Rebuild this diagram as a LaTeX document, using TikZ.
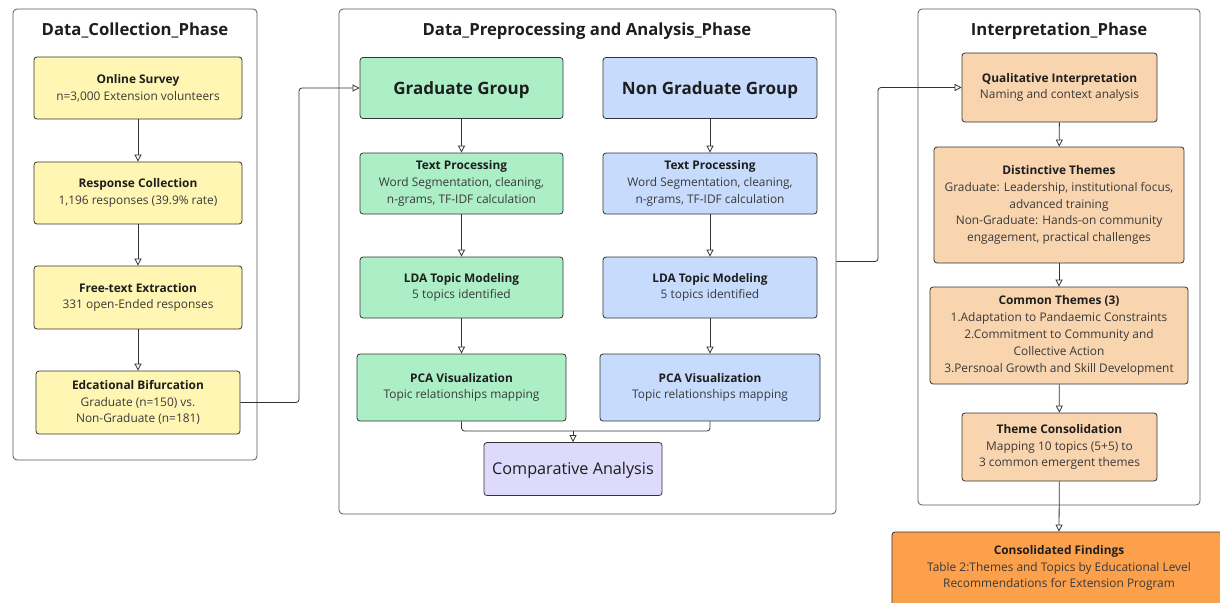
\documentclass[tikz,border=0pt]{standalone}
\usepackage{fontspec}
\setmainfont{Open Sans}
\usetikzlibrary{arrows.meta,calc}
\definecolor{cyel}{HTML}{FFF6B3}
\definecolor{cgrn}{HTML}{ACEFC7}
\definecolor{cblu}{HTML}{C7DBFD}
\definecolor{clav}{HTML}{DDDAFB}
\definecolor{cpch}{HTML}{F8D4AF}
\definecolor{corg}{HTML}{FDA04B}
\definecolor{ctxt}{HTML}{3A3A3A}
\definecolor{cttl}{HTML}{1E1E1E}
\definecolor{cedge}{HTML}{333333}
\newcommand{\hd}[1]{{\bfseries\color{cttl}#1}}
\tikzset{
  tx/.style={align=center, inner sep=0pt, text=ctxt, font={\fontsize{11.9}{16.8}\selectfont},
    execute at begin node={\rule{0pt}{17pt}}},
  bx/.style={draw=cedge, line width=0.8pt, rounded corners=3pt, tx},
  big/.style={execute at begin node={}, text=cttl, text depth=0pt},
  ybox/.style={bx, fill=cyel},
  gbox/.style={bx, fill=cgrn},
  bbox/.style={bx, fill=cblu},
  lbox/.style={bx, fill=clav},
  pbox/.style={bx, fill=cpch},
  obox/.style={bx, fill=corg},
  cluster/.style={draw=black!65, line width=0.8pt, rounded corners=4pt, inner sep=0pt},
  ctitle/.style={font={\fontsize{16.7}{20}\selectfont\bfseries}, text=cttl, inner sep=0pt,
    text height=11.9pt, text depth=0pt},
  arr/.style={draw=cedge, line width=0.8pt, -{Triangle[open, length=7pt, width=7pt]}},
  ln/.style={draw=cedge, line width=0.8pt},
}
\begin{document}
\begin{tikzpicture}[x=1pt,y=-1pt]
\useasboundingbox (0,0) rectangle (1220,602);
% clusters
\node[cluster, minimum width=244, minimum height=451] (c1) at (135,234.5) {};
\node[cluster, minimum width=497, minimum height=505] (c2) at (587.5,261.5) {};
\node[cluster, minimum width=282, minimum height=496] (c3) at (1059,257) {};
\node[ctitle] (t1) at (135,29.5) {Data\_Collection\_Phase};
\node[ctitle] (t2) at (587,29.5) {Data\_Preprocessing and Analysis\_Phase};
\node[ctitle] (t3) at (1059,29.5) {Interpretation\_Phase};
% phase 1
\node[ybox, minimum width=208, minimum height=62] (os) at (138,88) {\hd{Online Survey}\\n=3,000 Extension volunteers};
\node[ybox, minimum width=208, minimum height=62] (rc) at (138,193) {\hd{Response Collection}\\1,196 responses (39.9\% rate)};
\node[ybox, minimum width=208, minimum height=63] (fe) at (138,297.5) {\hd{Free-text Extraction}\\331 open-Ended responses};
\node[ybox, minimum width=204, minimum height=63] (eb) at (138,402.5) {\hd{Edcational Bifurcation}\\Graduate (n=150) vs.\\Non-Graduate (n=181)};
% phase 2
\node[gbox, big, minimum width=203, minimum height=61, font={\fontsize{17}{22}\selectfont\bfseries}, text height=12.1pt] (gg) at (461.5,88) {Graduate Group};
\node[bbox, big, minimum width=214, minimum height=61, font={\fontsize{17}{22}\selectfont\bfseries}, text height=12.1pt] (ng) at (710,88) {Non Graduate Group};
\node[gbox, minimum width=203, minimum height=61] (tpg) at (461.5,183.5) {\hd{Text Processing}\\Word Segmentation, cleaning,\\n-grams, TF-IDF calculation};
\node[bbox, minimum width=214, minimum height=61] (tpn) at (710,183.5) {\hd{Text Processing}\\Word Segmentation, cleaning,\\n-grams, TF-IDF calculation};
\node[gbox, minimum width=203, minimum height=61] (ldag) at (461.5,287.5) {\hd{LDA Topic Modeling}\\5 topics identified};
\node[bbox, minimum width=214, minimum height=61] (ldan) at (710,287.5) {\hd{LDA Topic Modeling}\\5 topics identified};
\node[gbox, minimum width=209, minimum height=67] (pcag) at (461.5,387.5) {\hd{PCA Visualization}\\Topic relationships mapping};
\node[bbox, minimum width=220, minimum height=67] (pcan) at (710,387.5) {\hd{PCA Visualization}\\Topic relationships mapping};
\node[lbox, big, minimum width=178, minimum height=53, font={\fontsize{16.2}{20}\selectfont}, text height=11.6pt] (ca) at (573,469) {Comparative Analysis};
% phase 3
\node[pbox, minimum width=195, minimum height=69] (qi) at (1059.5,87.5) {\hd{Qualitative Interpretation}\\Naming and context analysis};
\node[pbox, minimum width=250, minimum height=116] (dt) at (1059,205) {\hd{Distinctive Themes}\\Graduate: Leadership, institutional focus,\\advanced training\\Non-Graduate: Hands-on community\\engagement, practical challenges};
\node[pbox, minimum width=258, minimum height=97] (ct) at (1059,335.5) {\hd{Common Themes (3)}\\1.Adaptation to Pandaemic Constraints\\2.Commitment to Community and\\Collective Action\\3.Persnoal Growth and Skill Development};
\node[pbox, minimum width=195, minimum height=68] (tcn) at (1059.5,447) {\hd{Theme Consolidation}\\Mapping 10 topics (5+5) to\\3 common emergent themes};
\node[obox, minimum width=334, minimum height=76] (cf) at (1059,570) {};
\node[tx] (cft) at (1059,568) {\hd{Consolidated Findings}\\Table 2:Themes and Topics by Educational Level\\Recommendations for Extension Program};
% coordinates
\coordinate (k1) at (299,0);
\coordinate (k2) at (878,0);
\coordinate (m) at (573,431);
% edges
\draw[arr] (os) -- (rc);
\draw[arr] (rc) -- (fe);
\draw[arr] (fe) -- (eb);
\draw[arr, rounded corners=3pt] (eb.east) -| (k1 |- gg.west) -- (gg.west);
\draw[arr] (gg) -- (tpg);
\draw[arr] (ng) -- (tpn);
\draw[arr] (tpg) -- (ldag);
\draw[arr] (tpn) -- (ldan);
\draw[arr] (ldag) -- (pcag);
\draw[arr] (ldan) -- (pcan);
\draw[ln, rounded corners=3pt] (pcag.south) |- (m) -| (pcan.south);
\draw[arr] (m) -- (ca.north);
\draw[arr, rounded corners=3pt] (c2.east) -| (k2 |- qi.west) -- (qi.west);
\draw[arr] (qi) -- (dt);
\draw[arr] (dt) -- (ct);
\draw[arr] (ct) -- (tcn);
\draw[arr] (tcn) -- (cf.north);
\end{tikzpicture}
\end{document}
